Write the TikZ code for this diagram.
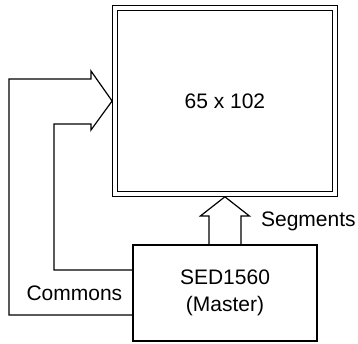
\documentclass[tikz,border=0pt]{standalone}
\usepackage{fontspec}
\setmainfont{Liberation Sans}
\usetikzlibrary{positioning,calc}

\begin{document}
\begin{tikzpicture}[
  x=1pt, y=1pt,
  box/.style={rectangle, draw, line width=1.2pt, align=center, inner sep=0pt, font=\fontsize{21}{27}\selectfont},
  lbl/.style={inner sep=0pt, font=\fontsize{21}{27}\selectfont},
  fat/.style={line width=1.2pt, line join=miter}
]
  \useasboundingbox (0,0) rectangle (358,343);
  \node[box, double, double distance=3.2pt, outer sep=2.8pt, minimum width=220pt, minimum height=186pt] (lcd) at (224.9,242) {65 x 102};
  \node[box, minimum width=184pt, minimum height=96pt] (sed) at (225,50) {SED1560\\(Master)};
  \node[lbl, left=10pt of sed] (comlbl) {Commons};
  \node[lbl, anchor=west] (seglbl) at ($(lcd.south)+(36,-25)$) {Segments};
  % segments bus
  \draw[fat] ($(sed.north)+(-16,0)$) -- ++(0,28.5) -- ++(-8.5,0) -- (lcd.south)
    -- ($(lcd.south)+(24.5,-19.2)$) -- ++(-8.5,0) -- ($(sed.north)+(16,0)$);
  % commons bus
  \draw[fat] ($(sed.west)+(0,-22)$) -| (9,264) -- (91,264) -- (91,272) -- (lcd.west)
    -- (91,213) -- (91,219) -- (54,219) |- ($(sed.west)+(0,23)$);
\end{tikzpicture}
\end{document}
